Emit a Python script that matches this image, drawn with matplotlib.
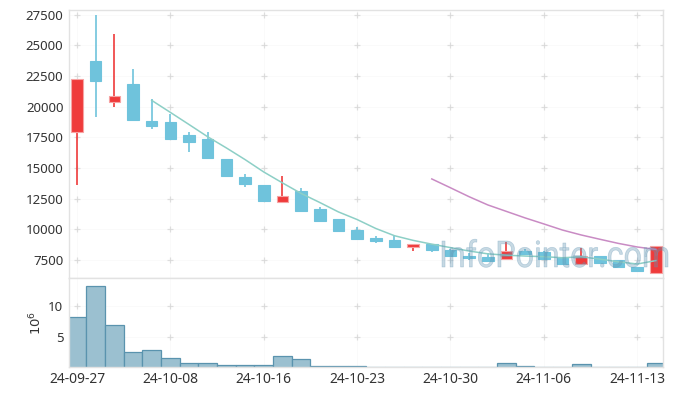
import matplotlib
matplotlib.use("Agg")
import matplotlib.pyplot as plt
from matplotlib.textpath import TextPath
from matplotlib.patches import PathPatch
from matplotlib.font_manager import FontProperties
from matplotlib.transforms import Affine2D

# daily prices (KRW), trading days only
dates = ['24-09-27', '24-09-30', '24-10-02', '24-10-04', '24-10-07', '24-10-08',
         '24-10-10', '24-10-11', '24-10-14', '24-10-15', '24-10-16', '24-10-17',
         '24-10-18', '24-10-21', '24-10-22', '24-10-23', '24-10-24', '24-10-25',
         '24-10-28', '24-10-29', '24-10-30', '24-10-31', '24-11-01', '24-11-04',
         '24-11-05', '24-11-06', '24-11-07', '24-11-08', '24-11-11', '24-11-12',
         '24-11-13', '24-11-14']
opens = [17970, 23740, 20420, 21860, 18840, 18760, 17700, 17370, 15740, 14270,
         13610, 12250, 13120, 11650, 10830, 9930, 9280, 9120, 8520, 8790,
         8340, 7810, 7750, 7540, 8220, 8160, 7700, 7180, 7810, 7460,
         6910, 6450]
highs = [22250, 27500, 25900, 23090, 20610, 19390, 17920, 17920, 15760, 14490,
         13610, 14320, 13390, 11790, 10830, 10150, 9440, 9470, 8790, 8790,
         8420, 8030, 8080, 8930, 8410, 8240, 7750, 8440, 7850, 7500,
         6950, 8630]
lows = [13610, 19190, 19960, 18920, 18210, 17260, 16330, 15840, 14370, 13470,
        12250, 12170, 11380, 10690, 9880, 9140, 8850, 8570, 8220, 8110,
        7780, 7480, 7400, 7540, 7980, 7510, 7180, 7180, 7240, 6900,
        6480, 6450]
closes = [22250, 22100, 20880, 18920, 18430, 17390, 17150, 15840, 14370, 13720,
          12330, 12710, 11510, 10690, 9880, 9220, 9060, 8570, 8790, 8330,
          7810, 7650, 7430, 8220, 8000, 7540, 7210, 7840, 7260, 6910,
          6610, 8630]
# moving averages (5 day from index 4, 20 day from index 19)
ma5 = [20520, 19540, 18550, 17550, 16640, 15690, 14680, 13790, 12930, 12190,
       11420, 10800, 10070, 9480, 9100, 8790, 8510, 8230, 8000, 7890,
       7820, 7770, 7680, 7760, 7570, 7350, 7170, 7450]
ma20 = [14110, 13390, 12660, 11990, 11460, 10930, 10440, 9940, 9540, 9190,
        8850, 8560, 8360]
# volume in millions of shares
volume = [8.2, 13.3, 7.0, 2.6, 2.95, 1.6, 0.85, 0.85, 0.48, 0.48,
          0.48, 1.95, 1.45, 0.3, 0.3, 0.3, 0.12, 0.1, 0.12, 0.1,
          0.1, 0.12, 0.1, 0.8, 0.35, 0.12, 0.1, 0.65, 0.12, 0.1,
          0.12, 0.85]

price_ticks = [7500, 10000, 12500, 15000, 17500, 20000, 22500, 25000, 27500]
vol_ticks = [5, 10]
date_ticks = [0, 5, 10, 15, 20, 25, 30]

up_col = '#ef3b3b'
down_col = '#6fc3dc'
spine_col = '#e2e2e2'
plus_col = '#e2e2e2'
text_col = '#333333'

plt.rcParams['font.family'] = ['Noto Sans', 'DejaVu Sans']

W, H = 676, 396
fig = plt.figure(figsize=(W / 100, H / 100), dpi=100)
ax = fig.add_axes([0.102, 0.298, 0.879, 0.677])
axv = fig.add_axes([0.102, 0.0732, 0.879, 0.2248])

xs = list(range(len(closes)))

# candles
for i in xs:
    o, h, l, c = opens[i], highs[i], lows[i], closes[i]
    col = up_col if c >= o else down_col
    ax.vlines(i, l, h, color=col, lw=1.2, zorder=2)
    bottom = min(o, c)
    height = max(abs(c - o), 40)
    edge = '#f6a3a3' if c >= o else col
    ax.bar(i, height, 0.62, bottom=bottom, color=col, edgecolor=edge,
           linewidth=0.8, zorder=3)

ax.plot(xs[4:], ma5, color='#8dcfc6', lw=1.1, zorder=4)
ax.plot(xs[19:], ma20, color='#c98bc4', lw=1.1, zorder=4)

# volume bars
axv.bar(xs, volume, 1.0, color='#9bc0d0', edgecolor='#5a93ae', linewidth=0.9,
        zorder=2)

# watermark: narrow and tall in the original, so squeeze a text path
# into its box (x 442..668 px, caps 26 px high, baseline at y=267 px)
fp = FontProperties(family='Roboto', weight='normal')
tp = TextPath((0, 0), 'InfoPointer.com', size=1, prop=fp)
ext = tp.get_extents()
cap = TextPath((0, 0), 'I', size=1, prop=fp).get_extents().height
tr = (Affine2D().translate(-ext.x0, 0)
      .scale(226 / ext.width / W, 26 / cap / H)
      .translate(442 / W, (H - 267) / H) + fig.transFigure)
fig.add_artist(PathPatch(tp, transform=tr, facecolor='#6496b4', edgecolor='#6496b4',
                         linewidth=0.5, alpha=0.36, zorder=5))

xlim = (-0.43, 31.39)
for a, yt, ylim in [(ax, price_ticks, (6030, 27900)), (axv, vol_ticks, (0.16, 14.56))]:
    a.set_xlim(*xlim)
    a.set_ylim(*ylim)
    a.set_yticks(yt, labels=[str(v) for v in yt])
    a.set_xticks(date_ticks)
    for s in a.spines.values():
        s.set_color(spine_col)
        s.set_linewidth(1)
    a.tick_params(length=0, labelsize=9.5, labelcolor=text_col, pad=4)
    # grid is only visible over the marks, plus little "+" marks at the crossings
    a.grid(True, color='k', alpha=0.02, lw=0.8, zorder=6)
    gx = date_ticks + [xlim[1]]
    px = [x for x in gx for _ in yt]
    py = [y for _ in gx for y in yt]
    a.scatter(px, py, marker='+', s=14, color=plus_col, linewidths=0.9,
              zorder=1, clip_on=True)

ax.tick_params(labelbottom=False)
axv.set_xticklabels([dates[i] for i in date_ticks])
axv.tick_params(axis='x', pad=3.5, labelsize=10)
axv.set_ylabel(r'$10^6$', color=text_col, fontsize=9.5, labelpad=3)

fig.savefig('out.png', dpi=100)
